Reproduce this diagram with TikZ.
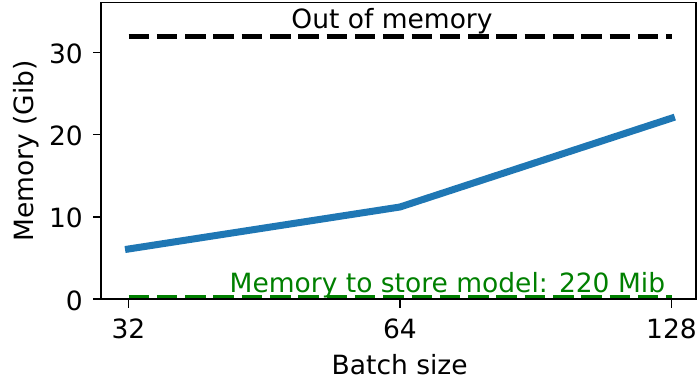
\documentclass[tikz,border=0pt]{standalone}
\usepackage{fontspec}
\setmainfont{DejaVu Sans}
\definecolor{mplblue}{HTML}{1F77B4}
\definecolor{mplgreen}{HTML}{008000}
\begin{document}
\begin{tikzpicture}[x=1pt,y=-1pt,
  spine/.style={line width=1.6pt},
  tickmark/.style={line width=1.6pt},
  lbl/.style={font=\fontsize{26.5}{30}\selectfont, inner sep=0pt},
  limitline/.style={line width=5pt, dash pattern=on 20.5pt off 7.8pt},
  curve/.style={mplblue, line width=7pt, line cap=rect, line join=round}]
\useasboundingbox (0,0) rectangle (697,380);

% data points: batch size 32, 64, 128 (log2 axis) -> memory in GiB
\coordinate (p32)  at (128.5,249.0);
\coordinate (p64)  at (400.0,207.0);
\coordinate (p128) at (671.5,118.2);
% limits: out of memory at 32 GiB, model size 220 MiB
\coordinate (oomL) at (128.5,36.0);
\coordinate (oomR) at (671.5,36.0);
\coordinate (modL) at (128.5,297.2);
\coordinate (modR) at (671.5,297.2);

\draw[limitline, black] (oomL) -- (oomR);
\draw[limitline, mplgreen] (modL) -- (modR);
\draw[curve] (p32) -- (p64) -- (p128);

% axes frame
\coordinate (ax0) at (101,2.6);
\coordinate (ax1) at (696,299);
\draw[spine] (ax0) rectangle (ax1);

% y ticks
\foreach \v/\py in {0/299,10/216.8,20/134.6,30/52.3}{
  \coordinate (yt\v) at (101,\py);
  \draw[tickmark] (yt\v) -- ++(-8,0);
  \node[lbl, anchor=base east] (ytl\v) at (83,\py+11) {\v};
}
% x ticks
\foreach \v/\px in {32/128.5,64/400,128/671.5}{
  \coordinate (xt\v) at (\px,299);
  \draw[tickmark] (xt\v) -- ++(0,8.5);
  \node[lbl, anchor=base] (xtl\v) at (\px,338) {\v};
}

% axis labels
\node[lbl, anchor=base] (xlab) at (399.7,374) {Batch size};
\node[lbl, anchor=base, rotate=90] (ylab) at (33,151) {Memory (Gib)};

% annotations
\node[lbl, anchor=base] (oomtxt) at (392,28.3) {Out of memory};
\node[lbl, anchor=base west, text=mplgreen] (modtxt) at (229.5,292.3) {Memory to store model: 220 Mib};
\end{tikzpicture}
\end{document}
